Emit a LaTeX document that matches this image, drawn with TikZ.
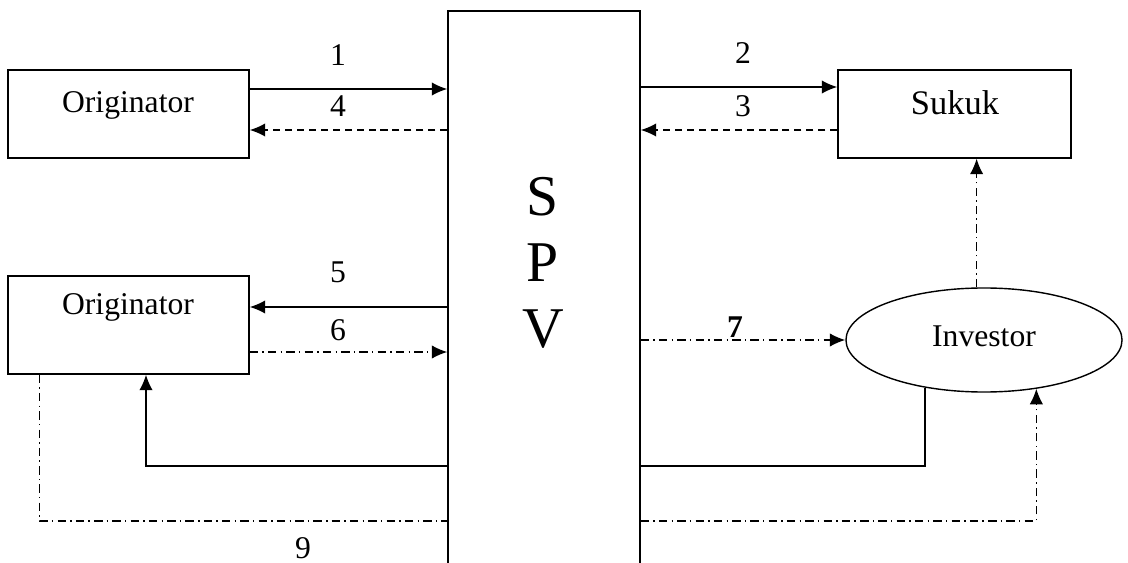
\documentclass[tikz,border=0pt]{standalone}
\usepackage{fontspec}
\setmainfont{Liberation Serif}
\usepackage{tikz}
\usetikzlibrary{positioning,arrows.meta,calc,shapes.geometric}

\begin{document}
\begin{tikzpicture}[x=0.025cm, y=-0.025cm,
    box/.style={draw, line width=1pt, minimum width=6.025cm, minimum height=2.2cm},
    lbl/.style={font=\fontsize{22.5}{26}\selectfont, inner sep=0pt},
    tip/.style={-{Latex[length=11pt,width=9.5pt]}},
    flow/.style={line width=1pt, tip},
    dashflow/.style={flow, dash pattern=on 5pt off 3.5pt},
    dotflow/.style={line width=0.9pt, dash pattern=on 6pt off 3pt on 1pt off 3pt}]
        \useasboundingbox (0,0) rectangle (1128,563);
        \clip (0,0) rectangle (1128,563);

        % Boxes
        \node[box] (orig1) at (128.5,114) {};
        \node[box, minimum height=2.45cm] (orig2) at (128.5,325) {};
        \node[box, minimum width=5.825cm] (sukuk) at (954.5,114) {};
        \node[draw, line width=1pt, ellipse, minimum width=6.9cm, minimum height=2.6cm,
          inner sep=0pt] (investor) at (984,340) {};
        \node[draw, line width=1pt, minimum width=4.8cm, minimum height=15.225cm,
          inner sep=0pt] (spv) at (544,315.5) {};

        % Texts
        \node[lbl] (orig1txt) at (128,105) {Originator};
        \node[lbl] (orig2txt) at (128,307.5) {Originator};
        \node[lbl, font=\fontsize{24.5}{28}\selectfont] (sukuktxt) at (955,102.5) {Sukuk};
        \node[lbl] (investortxt) at (984,336) {Investor};
        \node[font=\fontsize{41}{47}\selectfont, align=center, inner sep=0pt]
          (spvtxt) at (543,263) {S\\P\\V};

        % Top flows
        \draw[flow] (orig1.east |- 0,89) -- (spv.west |- 0,89);
        \node[lbl] (n1) at (338,55) {1};
        \draw[dashflow] (spv.west |- 0,130) -- (orig1.east |- 0,130);
        \node[lbl] (n4) at (338,106) {4};
        \draw[flow] (spv.east |- 0,87) -- (sukuk.west |- 0,87);
        \node[lbl] (n2) at (743,53) {2};
        \draw[dashflow] (sukuk.west |- 0,130) -- (spv.east |- 0,130);
        \node[lbl] (n3) at (743,106) {3};

        % Middle flows
        \draw[flow] (spv.west |- 0,307) -- (orig2.east |- 0,307);
        \node[lbl] (n5) at (338,272) {5};
        \draw[dotflow, tip] (orig2.east |- 0,352) -- (spv.west |- 0,352);
        \node[lbl] (n6) at (338,330) {6};
        \draw[dotflow, tip] (spv.east |- investor.west) -- (investor.west);
        \node[lbl, font=\fontsize{22.5}{26}\selectfont\bfseries] (n7) at (735,327) {7};
        \draw[dotflow, tip] (investor.98) -- (investor.98 |- sukuk.south);

        % Bottom loops
        \draw[flow] (spv.west |- 0,466) -| ($(orig2.south)+(17.5,0)$);
        \draw[line width=1pt] (spv.east |- 0,466) -| (investor.219);
        \draw[dotflow] ($(orig2.south west)+(32,0)$) |- (spv.west |- 0,521);
        \draw[dotflow, tip] (spv.east |- 0,521) -| (investor.317);
        \node[lbl] (n9) at (303,548) {9};
      \end{tikzpicture}
\end{document}
